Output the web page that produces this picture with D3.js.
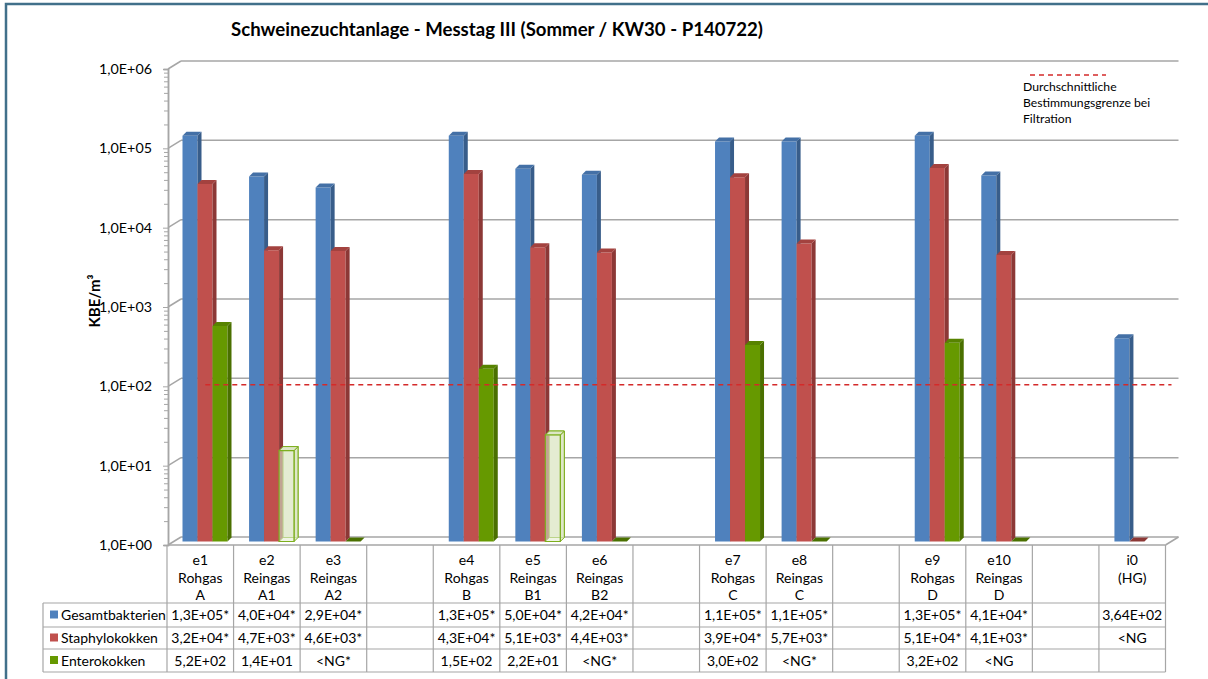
<!DOCTYPE html>
<html>
<head>
<meta charset="utf-8">
<script src="https://cdn.jsdelivr.net/npm/d3@7"></script>
<style>
  html, body { margin: 0; padding: 0; background: #fff; }
  svg { display: block; }
  text { font-family: Lato, "Open Sans", sans-serif; fill: #000; }
</style>
</head>
<body>
<svg id="chart" width="1208" height="679"></svg>
<script>
// ---------------- DATA ----------------
const title = "Schweinezuchtanlage - Messtag III (Sommer / KW30 - P140722)";
const yTitle = "KBE/m³";
const categories = ["e1\nRohgas\nA", "e2\nReingas\nA1", "e3\nReingas\nA2", "",
  "e4\nRohgas\nB", "e5\nReingas\nB1", "e6\nReingas\nB2", "",
  "e7\nRohgas\nC", "e8\nReingas\nC", "",
  "e9\nRohgas\nD", "e10\nReingas\nD", "", "i0\n(HG)"];
const seriesNames = ["Gesamtbakterien", "Staphylokokken", "Enterokokken"];
// numeric values (1 = <NG, drawn as a flat bar; null = no bar)
const gesamt = [1.3e5, 4.0e4, 2.9e4, null, 1.3e5, 5.0e4, 4.2e4, null, 1.1e5, 1.1e5, null, 1.3e5, 4.1e4, null, 3.64e2];
const staph  = [3.2e4, 4.7e3, 4.6e3, null, 4.3e4, 5.1e3, 4.4e3, null, 3.9e4, 5.7e3, null, 5.1e4, 4.1e3, null, 1];
const entero = [5.2e2, 1.4e1, 1, null, 1.5e2, 2.2e1, 1, null, 3.0e2, 1, null, 3.2e2, 1, null, null];
// Enterokokken values below the detection limit, drawn as hollow bars
const enteroHollow = ["e2", "e5"];
// table texts
const gesamtLabels = ["1,3E+05*", "4,0E+04*", "2,9E+04*", "", "1,3E+05*", "5,0E+04*", "4,2E+04*", "", "1,1E+05*", "1,1E+05*", "", "1,3E+05*", "4,1E+04*", "", "3,64E+02"];
const staphLabels  = ["3,2E+04*", "4,7E+03*", "4,6E+03*", "", "4,3E+04*", "5,1E+03*", "4,4E+03*", "", "3,9E+04*", "5,7E+03*", "", "5,1E+04*", "4,1E+03*", "", "<NG"];
const enteroLabels = ["5,2E+02", "1,4E+01", "<NG*", "", "1,5E+02", "2,2E+01", "<NG*", "", "3,0E+02", "<NG*", "", "3,2E+02", "<NG", "", ""];
const yTickValues = [1, 10, 100, 1000, 10000, 100000, 1000000];
const yTickLabels = ["1,0E+00", "1,0E+01", "1,0E+02", "1,0E+03", "1,0E+04", "1,0E+05", "1,0E+06"];
const limitValue = 100;
const limitLegend = ["Durchschnittliche", "Bestimmungsgrenze bei", "Filtration"];

// ---------------- LAYOUT ----------------
const svg = d3.select("#chart");
const colors = {
  front: ["#4F81BD", "#C0504D", "#669900"],
  side:  ["#385D8A", "#8C3836", "#4A7000"],
  top:   ["#4470A6", "#A3423F", "#578300"]
};
const gridColor = "#A6A6A6";
const textColor = "#1a1a1a";
const plotLeft = 168, plotFloor = 545, plotTop = 69;
const back = {dx: 13, dy: -8};       // back wall offset
const barDepth = {dx: 4, dy: -4};    // bar thickness
const barShift = -3.5;               // bars stand slightly behind the front plane
const lineShift = -1.5;

const idx = d3.range(categories.length);
const x = d3.scaleBand().domain(idx).range([167, 1165.5]).padding(0);
const xs = d3.scaleBand().domain(d3.range(3)).range([15.5, 60.5]).padding(0);
const y = d3.scaleLog().domain([1, 1e6]).range([plotFloor, plotTop]);
const plotRight = x.range()[1];

// outer frame
svg.append("rect").attr("x", 6).attr("y", 4).attr("width", 1300).attr("height", 800)
  .attr("fill", "none").attr("stroke", "#41708A").attr("stroke-width", 2.5);

// title
svg.append("text").attr("x", 497).attr("y", 36).attr("text-anchor", "middle")
  .style("font-size", "18.6px").style("font-weight", "bold").text(title);

// ---------- back wall gridlines ----------
const grid = svg.append("g");
yTickValues.forEach(v => {
  grid.append("line").attr("x1", plotLeft).attr("y1", y(v))
    .attr("x2", plotLeft + back.dx).attr("y2", y(v) + back.dy)
    .attr("stroke", gridColor).attr("stroke-width", 1.5);
  grid.append("line").attr("x1", plotLeft + back.dx).attr("y1", y(v) + back.dy)
    .attr("x2", plotRight + back.dx).attr("y2", y(v) + back.dy)
    .attr("stroke", gridColor).attr("stroke-width", 1.5);
});
// floor front edge and right slant
grid.append("line").attr("x1", plotLeft).attr("y1", plotFloor).attr("x2", plotRight).attr("y2", plotFloor)
  .attr("stroke", gridColor).attr("stroke-width", 1.5);
grid.append("line").attr("x1", plotRight).attr("y1", plotFloor).attr("x2", plotRight + back.dx).attr("y2", plotFloor + back.dy)
  .attr("stroke", gridColor).attr("stroke-width", 1.5);

// ---------- y axis ----------
const minorTicks = [];
for (let e = 0; e < 6; e++) for (let m = 2; m <= 9; m++) minorTicks.push(m * Math.pow(10, e));
const axisMinor = d3.axisLeft(y).tickValues(minorTicks).tickSize(4).tickFormat("");
const axisMajor = d3.axisLeft(y).tickValues(yTickValues).tickSize(5).tickPadding(11)
  .tickFormat((d, i) => yTickLabels[i]);
const gMinor = svg.append("g").attr("transform", `translate(${plotLeft},0)`).call(axisMinor);
const gMajor = svg.append("g").attr("transform", `translate(${plotLeft},0)`).call(axisMajor);
[gMinor, gMajor].forEach(g => {
  g.select(".domain").attr("stroke", gridColor).attr("stroke-width", 1.5);
  g.selectAll(".tick line").attr("stroke", gridColor).attr("stroke-width", 1);
});
gMajor.selectAll(".tick text").style("font-size", "14.3px").style("font-family", "Lato, sans-serif").attr("fill", textColor);

svg.append("text").attr("transform", "translate(100,301) rotate(-90)")
  .attr("text-anchor", "middle").style("font-size", "15px").style("font-weight", "bold").text(yTitle);

// ---------- bars ----------
const series = [gesamt, staph, entero];
const barsG = svg.append("g");
const bw = xs.bandwidth();
function drawBar(g, x0, v, s, hollow) {
  const yb = y(1) + barShift;
  const yt = y(v) + barShift;
  const dx = barDepth.dx, dy = barDepth.dy;
  const front = `M${x0},${yt}H${x0 + bw}V${yb}H${x0}Z`;
  const side = `M${x0 + bw},${yt}L${x0 + bw + dx},${yt + dy}V${yb + dy}L${x0 + bw},${yb}Z`;
  const top = `M${x0},${yt}L${x0 + dx},${yt + dy}H${x0 + bw + dx}L${x0 + bw},${yt}Z`;
  if (hollow) {
    const st = "#7DAE1E";
    g.append("path").attr("d", `M${x0 + dx},${yt + dy}H${x0 + bw + dx}V${yb + dy}H${x0 + dx}Z`)
      .attr("fill", "#E4ECD2").attr("stroke", st).attr("stroke-width", 1);
    g.append("path").attr("d", side).attr("fill", "#DCE6C6").attr("fill-opacity", 0.8).attr("stroke", st).attr("stroke-width", 1);
    g.append("path").attr("d", top).attr("fill", "#DCE6C6").attr("stroke", st).attr("stroke-width", 1);
    g.append("path").attr("d", `M${x0},${yb}L${x0 + dx},${yb + dy}`).attr("stroke", st).attr("stroke-width", 1);
    g.append("path").attr("d", front).attr("fill", "#E4ECD2").attr("fill-opacity", 0.6).attr("stroke", st).attr("stroke-width", 1.2);
    return;
  }
  if (yb - yt > 0.5) {
    g.append("path").attr("d", front).attr("fill", colors.front[s]);
    g.append("path").attr("d", side).attr("fill", colors.side[s]);
  }
  g.append("path").attr("d", top).attr("fill", yb - yt > 0.5 ? colors.top[s] : colors.side[s]);
}
idx.forEach(i => {
  series.forEach((arr, s) => {
    const v = arr[i];
    if (v == null) return;
    const catId = categories[i].split("\n")[0];
    const hollow = s === 2 && enteroHollow.includes(catId);
    drawBar(barsG, x(i) + xs(s), v, s, hollow);
  });
});

// ---------- limit line ----------
svg.append("line")
  .attr("x1", x(0) + x.bandwidth() / 2 + 5).attr("x2", plotRight + 6)
  .attr("y1", y(limitValue) + lineShift).attr("y2", y(limitValue) + lineShift)
  .attr("stroke", "#D42A2A").attr("stroke-width", 1.5).attr("stroke-dasharray", "5,4");

// legend for limit line
svg.append("line").attr("x1", 1030).attr("x2", 1106).attr("y1", 75).attr("y2", 75)
  .attr("stroke", "#D42A2A").attr("stroke-width", 1.5).attr("stroke-dasharray", "5,4");
svg.append("g").selectAll("text").data(limitLegend).join("text")
  .attr("x", 1023).attr("y", (d, i) => 91 + i * 16)
  .style("font-size", "12.2px").attr("fill", "#222").text(d => d);

// ---------- data table ----------
const tbl = svg.append("g");
const rowTops = [603, 627, 649, 672];
const tableLeft = 43;
const lineAttr = sel => sel.attr("stroke", gridColor).attr("stroke-width", 1.2);
rowTops.forEach(ry => {
  lineAttr(tbl.append("line").attr("x1", tableLeft).attr("x2", plotRight).attr("y1", ry).attr("y2", ry));
});
const colEdges = idx.map(i => x(i)).concat([plotRight]);
colEdges.forEach(cx => {
  lineAttr(tbl.append("line").attr("x1", cx).attr("x2", cx).attr("y1", plotFloor).attr("y2", rowTops[3]));
});
lineAttr(tbl.append("line").attr("x1", tableLeft).attr("x2", tableLeft).attr("y1", rowTops[0]).attr("y2", rowTops[3]));

// category headers
idx.forEach(i => {
  const lines = categories[i] ? categories[i].split("\n") : [];
  lines.forEach((t, k) => {
    tbl.append("text").attr("x", x(i) + x.bandwidth() / 2).attr("y", 565 + k * 17.5)
      .attr("text-anchor", "middle").style("font-size", "14px").attr("fill", textColor).text(t);
  });
});
// value rows
const rowLabels = [gesamtLabels, staphLabels, enteroLabels];
rowLabels.forEach((labels, r) => {
  const cy = (rowTops[r] + rowTops[r + 1]) / 2 + 5;
  labels.forEach((t, i) => {
    if (!t) return;
    tbl.append("text").attr("x", x(i) + x.bandwidth() / 2).attr("y", cy)
      .attr("text-anchor", "middle").style("font-size", "14px").attr("fill", textColor).text(t);
  });
  tbl.append("rect").attr("x", 50).attr("y", cy - 5 - 4.5).attr("width", 8).attr("height", 8)
    .attr("fill", colors.front[r]);
  tbl.append("text").attr("x", 61).attr("y", cy).style("font-size", "14px").attr("fill", textColor).text(seriesNames[r]);
});
</script>
</body>
</html>
